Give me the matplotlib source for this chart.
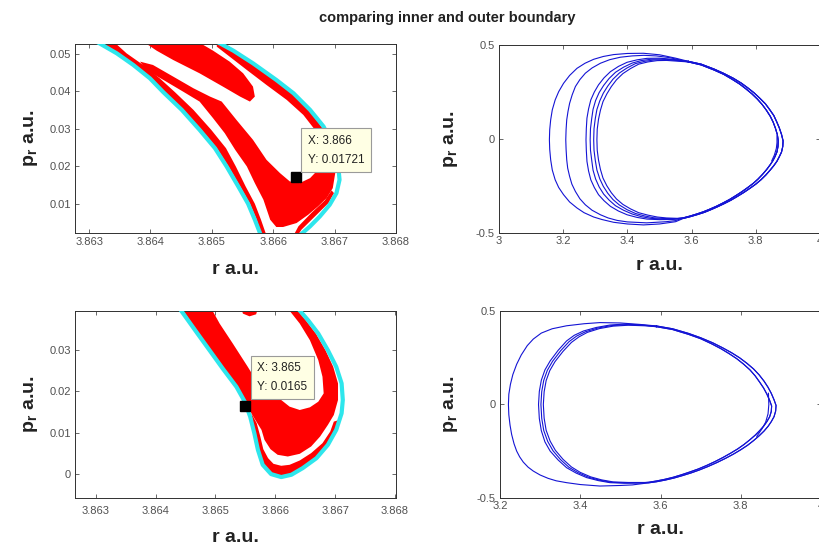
import matplotlib
matplotlib.use("Agg")
import matplotlib.pyplot as plt

plt.rcParams['font.family'] = ['Liberation Sans', 'DejaVu Sans']
plt.rcParams['mathtext.fontset'] = 'custom'
plt.rcParams['mathtext.bf'] = 'Liberation Sans:bold'
plt.rcParams['mathtext.rm'] = 'Liberation Sans'
plt.rcParams['mathtext.it'] = 'Liberation Sans:italic'

# ---------------- top-left panel (r, p_r) ----------------
tl_cyan_left = [(3.86312, 0.0533), (3.86345, 0.05018), (3.86372, 0.04707), (3.86399, 0.04351),
                (3.86421, 0.03978), (3.86451, 0.03507), (3.86480, 0.02973), (3.86505, 0.02484),
                (3.86524, 0.01996), (3.86543, 0.01462), (3.86559, 0.01000), (3.86570, 0.00573),
                (3.86580, 0.0015)]
tl_cyan_right = [(3.86508, 0.0533), (3.86535, 0.05089), (3.86567, 0.04751), (3.86605, 0.04307),
                 (3.86633, 0.03951), (3.86660, 0.03507), (3.86682, 0.03062), (3.86698, 0.02529),
                 (3.86706, 0.01996), (3.86708, 0.01640), (3.86703, 0.01284), (3.86692, 0.00973),
                 (3.86676, 0.00662), (3.86660, 0.00396), (3.86643, 0.0015)]
tl_red_band1 = [(3.86320, 0.0530), (3.86347, 0.05018), (3.86374, 0.04707), (3.86402, 0.04351),
                (3.86423, 0.03978), (3.86453, 0.03507), (3.86483, 0.02973), (3.86508, 0.02484),
                (3.86527, 0.01996), (3.86546, 0.01462), (3.86562, 0.01000), (3.86573, 0.00573),
                (3.86581, 0.0015), (3.86589, 0.0015), (3.86580, 0.00573), (3.86570, 0.01000),
                (3.86555, 0.01462), (3.86539, 0.01996), (3.86523, 0.02484), (3.86499, 0.02973),
                (3.86470, 0.03507), (3.86440, 0.03978), (3.86415, 0.04351), (3.86388, 0.04707),
                (3.86361, 0.05018), (3.86342, 0.0530)]
tl_red_main = [(3.86383, 0.04796), (3.86404, 0.04707), (3.86437, 0.04396), (3.86470, 0.04084),
               (3.86497, 0.03862), (3.86516, 0.03729), (3.86540, 0.03240), (3.86567, 0.02707),
               (3.86589, 0.02173), (3.86611, 0.01818), (3.86627, 0.01596), (3.86643, 0.01551),
               (3.86660, 0.01684), (3.86673, 0.01907), (3.86676, 0.02262), (3.86671, 0.02618),
               (3.86673, 0.02796), (3.86690, 0.02662), (3.86698, 0.02262), (3.86701, 0.01818),
               (3.86697, 0.01418), (3.86687, 0.01151), (3.86673, 0.00929), (3.86657, 0.00707),
               (3.86638, 0.00484), (3.86616, 0.00378), (3.86605, 0.00378), (3.86595, 0.00573),
               (3.86584, 0.01107), (3.86570, 0.01551), (3.86557, 0.01996), (3.86538, 0.02440),
               (3.86521, 0.02884), (3.86502, 0.03284), (3.86480, 0.03729), (3.86453, 0.03996),
               (3.86421, 0.04307), (3.86393, 0.04573)]
tl_red_band3 = [(3.86391, 0.0530), (3.86480, 0.0530), (3.86502, 0.05089), (3.86529, 0.04796),
                (3.86551, 0.04484), (3.86567, 0.04129), (3.86570, 0.03862), (3.86562, 0.03729),
                (3.86546, 0.03862), (3.86518, 0.04129), (3.86480, 0.04484), (3.86437, 0.04840),
                (3.86410, 0.05089)]
tl_red_band4 = [(3.86508, 0.0530), (3.86520, 0.0530), (3.86562, 0.04796), (3.86616, 0.04173),
                (3.86657, 0.03551), (3.86684, 0.02929), (3.86695, 0.02573), (3.86676, 0.02618),
                (3.86668, 0.02973), (3.86649, 0.03373), (3.86622, 0.03773), (3.86589, 0.04173),
                (3.86557, 0.04573), (3.86529, 0.04929), (3.86508, 0.05196)]
tl_red_band5 = [(3.86699, 0.01284), (3.86690, 0.01018), (3.86668, 0.00662), (3.86646, 0.00307),
                (3.86640, 0.0015), (3.86633, 0.0015), (3.86641, 0.00396), (3.86662, 0.00751),
                (3.86684, 0.01089), (3.86695, 0.01356)]
tl_cursor = (3.86637, 0.01721)
tl_cursor_text = "X: 3.866\nY: 0.01721"
tl_xlim = (3.86277, 3.868)
tl_ylim = (0.00218, 0.05267)
tl_xticks = [3.863, 3.864, 3.865, 3.866, 3.867, 3.868]
tl_xticklabels = ['3.863', '3.864', '3.865', '3.866', '3.867', '3.868']
tl_yticks = [0.01, 0.02, 0.03, 0.04, 0.05]
tl_yticklabels = ['0.01', '0.02', '0.03', '0.04', '0.05']

# ---------------- bottom-left panel ----------------
bl_cyan = [(3.86440, 0.0401), (3.86468, 0.03442), (3.86490, 0.03000), (3.86512, 0.02558),
           (3.86535, 0.02115), (3.86549, 0.01753), (3.86558, 0.01391), (3.86565, 0.00989),
           (3.86571, 0.00587), (3.86579, 0.00225), (3.86593, 0.0), (3.86610, -0.00072),
           (3.86627, -0.00016), (3.86646, 0.00145), (3.86669, 0.00386), (3.86688, 0.00708),
           (3.86702, 0.01070), (3.86711, 0.01472), (3.86713, 0.01794), (3.86711, 0.02196),
           (3.86702, 0.02598), (3.86688, 0.03000), (3.86672, 0.03402), (3.86655, 0.03724),
           (3.86638, 0.0401)]
bl_red_main = [(3.86444, 0.0401), (3.86469, 0.03442), (3.86491, 0.03000), (3.86513, 0.02558),
               (3.86536, 0.02115), (3.86550, 0.01753), (3.86560, 0.01472), (3.86565, 0.01351),
               (3.86577, 0.01070), (3.86582, 0.00828), (3.86592, 0.00603), (3.86604, 0.00467),
               (3.86621, 0.00426), (3.86641, 0.00491), (3.86660, 0.00668), (3.86675, 0.00909),
               (3.86688, 0.01190), (3.86698, 0.01432), (3.86705, 0.01794), (3.86705, 0.02196),
               (3.86697, 0.02598), (3.86684, 0.03000), (3.86668, 0.03402), (3.86651, 0.03724),
               (3.86635, 0.0401), (3.86621, 0.0401), (3.86641, 0.03644), (3.86658, 0.03241),
               (3.86672, 0.02759), (3.86679, 0.02357), (3.86681, 0.01954), (3.86672, 0.01753),
               (3.86658, 0.01617), (3.86641, 0.01552), (3.86624, 0.01633), (3.86610, 0.01794),
               (3.86591, 0.02035), (3.86571, 0.02196), (3.86554, 0.02598), (3.86529, 0.03161),
               (3.86507, 0.03644), (3.86493, 0.0401)]
bl_red_blob = [(3.86543, 0.0401), (3.86571, 0.0401), (3.86568, 0.03869), (3.86557, 0.03820),
               (3.86546, 0.03885)]
bl_red_edge = [(3.86560, 0.01472), (3.86566, 0.00989), (3.86572, 0.00587), (3.86580, 0.00241),
               (3.86593, 0.00024), (3.86610, -0.00040), (3.86627, 0.00008), (3.86646, 0.00169),
               (3.86668, 0.00402), (3.86687, 0.00708), (3.86701, 0.01070), (3.86707, 0.01311),
               (3.86698, 0.01271), (3.86692, 0.01030), (3.86679, 0.00748), (3.86660, 0.00507),
               (3.86641, 0.00330), (3.86624, 0.00225), (3.86610, 0.00201), (3.86597, 0.00249),
               (3.86588, 0.00386), (3.86580, 0.00603), (3.86575, 0.00909), (3.86569, 0.01231)]
bl_cursor = (3.86550, 0.0165)
bl_cursor_text = "X: 3.865\nY: 0.0165"
bl_xlim = (3.86265, 3.86802)
bl_ylim = (-0.00579, 0.03949)
bl_xticks = tl_xticks
bl_xticklabels = tl_xticklabels
bl_yticks = [0.0, 0.01, 0.02, 0.03]
bl_yticklabels = ['0', '0.01', '0.02', '0.03']

# ---------------- top-right panel (orbit loops) ----------------
tr_right_outer = [(3.590, 0.413), (3.630, 0.398), (3.670, 0.372), (3.700, 0.349), (3.730, 0.323),
                  (3.755, 0.297), (3.775, 0.272), (3.795, 0.245), (3.813, 0.216), (3.830, 0.187),
                  (3.843, 0.157), (3.856, 0.125), (3.865, 0.092), (3.873, 0.060), (3.880, 0.025),
                  (3.885, -0.010), (3.884, -0.040), (3.880, -0.070), (3.873, -0.095), (3.866, -0.118),
                  (3.856, -0.142), (3.845, -0.165), (3.831, -0.192), (3.816, -0.217), (3.800, -0.240),
                  (3.782, -0.262), (3.763, -0.284), (3.743, -0.305), (3.722, -0.326), (3.700, -0.345),
                  (3.680, -0.361), (3.660, -0.376), (3.640, -0.390), (3.618, -0.402), (3.596, -0.413),
                  (3.575, -0.422)]
tr_right_inner = [(3.590, 0.410), (3.630, 0.394), (3.670, 0.367), (3.700, 0.344), (3.726, 0.318),
                  (3.750, 0.292), (3.769, 0.267), (3.788, 0.240), (3.805, 0.212), (3.820, 0.183),
                  (3.833, 0.153), (3.845, 0.121), (3.854, 0.090), (3.861, 0.058), (3.867, 0.024),
                  (3.870, -0.010), (3.869, -0.040), (3.866, -0.068), (3.860, -0.093), (3.853, -0.116),
                  (3.844, -0.139), (3.834, -0.162), (3.821, -0.188), (3.807, -0.213), (3.792, -0.236),
                  (3.775, -0.258), (3.757, -0.280), (3.738, -0.301), (3.718, -0.322), (3.697, -0.341),
                  (3.677, -0.358), (3.657, -0.373), (3.637, -0.387), (3.616, -0.399), (3.595, -0.410),
                  (3.575, -0.419)]
tr_left_a = [(3.550, -0.440), (3.500, -0.452), (3.450, -0.457), (3.400, -0.452), (3.357, -0.443),
             (3.320, -0.428), (3.295, -0.415), (3.265, -0.392), (3.243, -0.367), (3.220, -0.335),
             (3.201, -0.296), (3.186, -0.258), (3.175, -0.217), (3.166, -0.165), (3.161, -0.111),
             (3.158, -0.055), (3.157, -0.004), (3.158, 0.050), (3.161, 0.102), (3.166, 0.155),
             (3.175, 0.208), (3.186, 0.252), (3.201, 0.296), (3.220, 0.338), (3.243, 0.376),
             (3.268, 0.403), (3.295, 0.424), (3.325, 0.439), (3.357, 0.449), (3.400, 0.455),
             (3.450, 0.456), (3.500, 0.448), (3.550, 0.430)]
tr_left_b = [(3.550, -0.434), (3.520, -0.440), (3.460, -0.446), (3.400, -0.441), (3.368, -0.433),
             (3.340, -0.420), (3.316, -0.403), (3.290, -0.379), (3.269, -0.350), (3.252, -0.318),
             (3.238, -0.279), (3.227, -0.240), (3.220, -0.199), (3.214, -0.155), (3.211, -0.111),
             (3.209, -0.055), (3.208, -0.004), (3.209, 0.050), (3.211, 0.102), (3.215, 0.147),
             (3.220, 0.190), (3.228, 0.235), (3.238, 0.279), (3.252, 0.316), (3.269, 0.350),
             (3.290, 0.378), (3.316, 0.403), (3.345, 0.422), (3.378, 0.435), (3.415, 0.442),
             (3.451, 0.445), (3.490, 0.442), (3.530, 0.433), (3.560, 0.422)]
tr_left_c = [(3.540, -0.428), (3.500, -0.429), (3.461, -0.426), (3.430, -0.417), (3.399, -0.403),
             (3.372, -0.383), (3.347, -0.358), (3.327, -0.328), (3.310, -0.296), (3.297, -0.258),
             (3.286, -0.217), (3.279, -0.170), (3.274, -0.119), (3.272, -0.060), (3.271, -0.004),
             (3.272, 0.055), (3.274, 0.111), (3.279, 0.160), (3.286, 0.208), (3.297, 0.250),
             (3.310, 0.288), (3.327, 0.325), (3.347, 0.358), (3.372, 0.386), (3.399, 0.408),
             (3.430, 0.421), (3.461, 0.429), (3.500, 0.430), (3.540, 0.424)]
tr_left_d = [(3.545, -0.426), (3.505, -0.426), (3.472, -0.422), (3.443, -0.413), (3.415, -0.399),
             (3.388, -0.379), (3.363, -0.355), (3.343, -0.325), (3.326, -0.293), (3.312, -0.255),
             (3.301, -0.213), (3.293, -0.166), (3.289, -0.115), (3.285, -0.060), (3.284, -0.004),
             (3.285, 0.055), (3.289, 0.111), (3.293, 0.158), (3.301, 0.205), (3.312, 0.247),
             (3.326, 0.285), (3.343, 0.322), (3.363, 0.355), (3.388, 0.382), (3.415, 0.404),
             (3.443, 0.417), (3.472, 0.424), (3.505, 0.426), (3.545, 0.421)]
tr_left_e = [(3.550, -0.424), (3.515, -0.423), (3.482, -0.419), (3.453, -0.409), (3.425, -0.396),
             (3.399, -0.376), (3.375, -0.351), (3.355, -0.322), (3.339, -0.289), (3.325, -0.252),
             (3.314, -0.212), (3.305, -0.165), (3.300, -0.114), (3.296, -0.060), (3.295, -0.004),
             (3.296, 0.055), (3.300, 0.109), (3.305, 0.157), (3.314, 0.203), (3.325, 0.244),
             (3.339, 0.282), (3.355, 0.318), (3.375, 0.351), (3.399, 0.378), (3.425, 0.401),
             (3.453, 0.413), (3.482, 0.420), (3.515, 0.422), (3.550, 0.418)]
tr_left_f = [(3.555, -0.422), (3.522, -0.420), (3.493, -0.415), (3.464, -0.405), (3.435, -0.392),
             (3.410, -0.372), (3.386, -0.348), (3.366, -0.319), (3.350, -0.286), (3.336, -0.249),
             (3.324, -0.208), (3.316, -0.162), (3.310, -0.112), (3.306, -0.060), (3.305, -0.004),
             (3.306, 0.052), (3.310, 0.105), (3.316, 0.153), (3.324, 0.199), (3.336, 0.240),
             (3.350, 0.279), (3.366, 0.315), (3.386, 0.348), (3.410, 0.375), (3.435, 0.398),
             (3.464, 0.410), (3.493, 0.417), (3.522, 0.418), (3.555, 0.414)]
tr_start = [(3.866, 0.017), (3.866, -0.020), (3.864, -0.050), (3.858, -0.085), (3.850, -0.115)]
tr_xticks = [3.0, 3.2, 3.4, 3.6, 3.8, 4.0]
tr_xticklabels = ['3', '3.2', '3.4', '3.6', '3.8', '4']
tr_yticks = [-0.5, 0.0, 0.5]
tr_yticklabels = ['-0.5', '0', '0.5']

# ---------------- bottom-right panel ----------------
br_right_outer = [(3.590, 0.420), (3.630, 0.405), (3.670, 0.380), (3.700, 0.357), (3.730, 0.330),
                  (3.755, 0.303), (3.777, 0.277), (3.797, 0.250), (3.815, 0.221), (3.832, 0.190),
                  (3.846, 0.158), (3.858, 0.125), (3.868, 0.092), (3.876, 0.060), (3.883, 0.025),
                  (3.888, -0.005), (3.887, -0.035), (3.883, -0.065), (3.876, -0.092), (3.868, -0.117),
                  (3.858, -0.142), (3.846, -0.167), (3.832, -0.193), (3.817, -0.218), (3.800, -0.242),
                  (3.782, -0.265), (3.762, -0.288), (3.741, -0.310), (3.719, -0.331), (3.697, -0.350),
                  (3.676, -0.366), (3.655, -0.380), (3.634, -0.393), (3.612, -0.404), (3.590, -0.413),
                  (3.570, -0.419)]
br_right_inner = [(3.590, 0.416), (3.630, 0.401), (3.670, 0.375), (3.700, 0.352), (3.727, 0.325),
                  (3.751, 0.298), (3.771, 0.272), (3.790, 0.245), (3.807, 0.216), (3.823, 0.185),
                  (3.836, 0.153), (3.847, 0.120), (3.857, 0.088), (3.865, 0.056), (3.872, 0.022),
                  (3.877, -0.008), (3.876, -0.038), (3.872, -0.066), (3.865, -0.092), (3.857, -0.116),
                  (3.847, -0.140), (3.836, -0.164), (3.822, -0.190), (3.808, -0.214), (3.792, -0.238),
                  (3.775, -0.260), (3.756, -0.283), (3.736, -0.305), (3.715, -0.326), (3.694, -0.345),
                  (3.673, -0.361), (3.652, -0.376), (3.632, -0.389), (3.611, -0.400), (3.590, -0.409),
                  (3.570, -0.416)]
br_left_outer = [(3.530, -0.430), (3.500, -0.433), (3.449, -0.436), (3.400, -0.428), (3.366, -0.418),
                 (3.340, -0.408), (3.320, -0.395), (3.300, -0.377), (3.283, -0.356), (3.270, -0.335),
                 (3.258, -0.308), (3.249, -0.280), (3.2415, -0.249), (3.235, -0.210), (3.229, -0.160),
                 (3.225, -0.110), (3.222, -0.055), (3.221, 0.0), (3.222, 0.055), (3.226, 0.108),
                 (3.232, 0.160), (3.2415, 0.215), (3.253, 0.265), (3.268, 0.315), (3.283, 0.350),
                 (3.303, 0.382), (3.330, 0.405), (3.366, 0.421), (3.410, 0.432), (3.449, 0.438),
                 (3.500, 0.436), (3.550, 0.428)]
br_left_1 = [(3.550, -0.420), (3.510, -0.421), (3.474, -0.418), (3.445, -0.407), (3.416, -0.391),
             (3.390, -0.367), (3.366, -0.338), (3.345, -0.297), (3.325, -0.249), (3.312, -0.200),
             (3.303, -0.140), (3.298, -0.075), (3.296, 0.0), (3.298, 0.070), (3.303, 0.130),
             (3.312, 0.185), (3.325, 0.233), (3.345, 0.290), (3.366, 0.340), (3.385, 0.370),
             (3.408, 0.393), (3.440, 0.412), (3.474, 0.425), (3.510, 0.430), (3.550, 0.426)]
br_left_2 = [(3.555, -0.419), (3.515, -0.419), (3.478, -0.416), (3.449, -0.405), (3.421, -0.389),
             (3.395, -0.365), (3.372, -0.336), (3.351, -0.295), (3.332, -0.247), (3.319, -0.198),
             (3.309, -0.139), (3.304, -0.074), (3.302, 0.0), (3.304, 0.069), (3.309, 0.129),
             (3.318, 0.183), (3.331, 0.231), (3.351, 0.287), (3.372, 0.336), (3.391, 0.366),
             (3.413, 0.389), (3.444, 0.409), (3.478, 0.422), (3.515, 0.427), (3.555, 0.424)]
br_left_3 = [(3.560, -0.417), (3.520, -0.417), (3.482, -0.414), (3.453, -0.403), (3.426, -0.387),
             (3.400, -0.363), (3.378, -0.334), (3.357, -0.293), (3.338, -0.245), (3.325, -0.196),
             (3.315, -0.138), (3.310, -0.073), (3.308, 0.0), (3.310, 0.068), (3.315, 0.128),
             (3.324, 0.181), (3.337, 0.229), (3.357, 0.284), (3.378, 0.332), (3.397, 0.362),
             (3.418, 0.386), (3.448, 0.406), (3.482, 0.419), (3.520, 0.424), (3.560, 0.421)]
br_start = [(3.869, 0.060), (3.870, 0.0), (3.868, -0.050), (3.862, -0.095), (3.853, -0.130),
            (3.840, -0.170)]
br_xticks = [3.2, 3.4, 3.6, 3.8, 4.0]
br_xticklabels = ['3.2', '3.4', '3.6', '3.8', '4']

title_text = 'comparing inner and outer boundary'
xlabel_text = 'r a.u.'
ylabel_text = r'$\mathbf{p_r}$ a.u.'

RED = '#ff0000'
CYAN = '#2ee6ec'
BLUE = '#1414d4'
TICKC = '#505050'
AXC = '#303030'

W, H = 819, 550
fig = plt.figure(figsize=(W / 100, H / 100), dpi=100)


def px_axes(x0, y0, x1, y1):
    return fig.add_axes([x0 / W, 1 - y1 / H, (x1 - x0) / W, (y1 - y0) / H])


def style(ax, box, xlim, ylim, xt, xtl, yt, ytl, xpad, xlab_off, ylab_off):
    ax.set_xlim(*xlim)
    ax.set_ylim(*ylim)
    ax.set_xticks(xt)
    ax.set_xticklabels(xtl)
    ax.set_yticks(yt)
    ax.set_yticklabels(ytl)
    ax.tick_params(direction='in', length=3, width=0.6, top=True, right=True,
                   labelsize=8, colors=TICKC)
    ax.tick_params(axis='x', pad=xpad)
    ax.tick_params(axis='y', pad=3)
    for s in ax.spines.values():
        s.set_color(AXC)
        s.set_linewidth(0.7)
    wpx = box[2] - box[0]
    hpx = box[3] - box[1]
    ax.set_xlabel(xlabel_text, fontsize=14, fontweight='bold', color='#222222', va='center')
    ax.xaxis.set_label_coords(0.5, -xlab_off / hpx)
    ax.set_ylabel(ylabel_text, fontsize=14, fontweight='bold', color='#222222', va='center')
    ax.yaxis.set_label_coords(-ylab_off / wpx, 0.5)


def fill(ax, pts):
    ax.fill([q[0] for q in pts], [q[1] for q in pts], color=RED, lw=0, zorder=2)


def line(ax, pts, **kw):
    ax.plot([q[0] for q in pts], [q[1] for q in pts], **kw)


def cursor(ax, pt, text, off):
    ax.plot([pt[0]], [pt[1]], 's', color='black', ms=7, zorder=6)
    ax.annotate(text, xy=pt, xytext=off, textcoords='offset pixels', ha='left', va='bottom',
                fontsize=8.5, color='#222222', linespacing=1.75, zorder=7,
                bbox=dict(boxstyle='square,pad=0.55', fc='#ffffe4', ec='#9a9a9a', lw=0.8))


# top-left
b1 = (75, 44, 396, 233)
ax1 = px_axes(*b1)
for poly in (tl_red_band1, tl_red_main, tl_red_band3, tl_red_band4, tl_red_band5):
    fill(ax1, poly)
line(ax1, tl_cyan_left, color=CYAN, lw=3, zorder=4, solid_capstyle='round')
line(ax1, tl_cyan_right, color=CYAN, lw=3, zorder=4, solid_capstyle='round')
cursor(ax1, tl_cursor, tl_cursor_text, (12, 11))
style(ax1, b1, tl_xlim, tl_ylim, tl_xticks, tl_xticklabels, tl_yticks, tl_yticklabels,
      3, 36, 44)

# bottom-left
b3 = (75, 311, 396, 498)
ax3 = px_axes(*b3)
for poly in (bl_red_main, bl_red_blob, bl_red_edge):
    fill(ax3, poly)
line(ax3, bl_cyan, color=CYAN, lw=3, zorder=4, solid_capstyle='round')
cursor(ax3, bl_cursor, bl_cursor_text, (12, 13))
style(ax3, b3, bl_xlim, bl_ylim, bl_xticks, bl_xticklabels, bl_yticks, bl_yticklabels,
      6, 40, 44)

# top-right
b2 = (499, 45, 820, 233)
ax2 = px_axes(*b2)
for left, right in ((tr_left_a, tr_right_outer), (tr_left_b, tr_right_inner),
                    (tr_left_c, tr_right_outer), (tr_left_d, tr_right_inner),
                    (tr_left_e, tr_right_outer), (tr_left_f, tr_right_inner)):
    line(ax2, right + left + right[:1], color=BLUE, lw=0.8)
line(ax2, tr_start, color=BLUE, lw=0.8)
style(ax2, b2, (3.0, 4.0), (-0.5, 0.5), tr_xticks, tr_xticklabels, tr_yticks, tr_yticklabels,
      2, 32, 48)

# bottom-right
b4 = (500, 311, 821, 498)
ax4 = px_axes(*b4)
for left, right in ((br_left_outer, br_right_outer), (br_left_1, br_right_inner),
                    (br_left_2, br_right_outer), (br_left_3, br_right_inner)):
    line(ax4, right + left + right[:1], color=BLUE, lw=0.8)
line(ax4, br_start, color=BLUE, lw=0.8)
style(ax4, b4, (3.2, 4.0), (-0.5, 0.5), br_xticks, br_xticklabels, tr_yticks, tr_yticklabels,
      2, 31, 49)

fig.text(447 / W, 1 - 18 / H, title_text, ha='center', va='center', fontsize=10.5,
         fontweight='bold', color='#222222')

fig.savefig('out.png', dpi=100, facecolor='white')
